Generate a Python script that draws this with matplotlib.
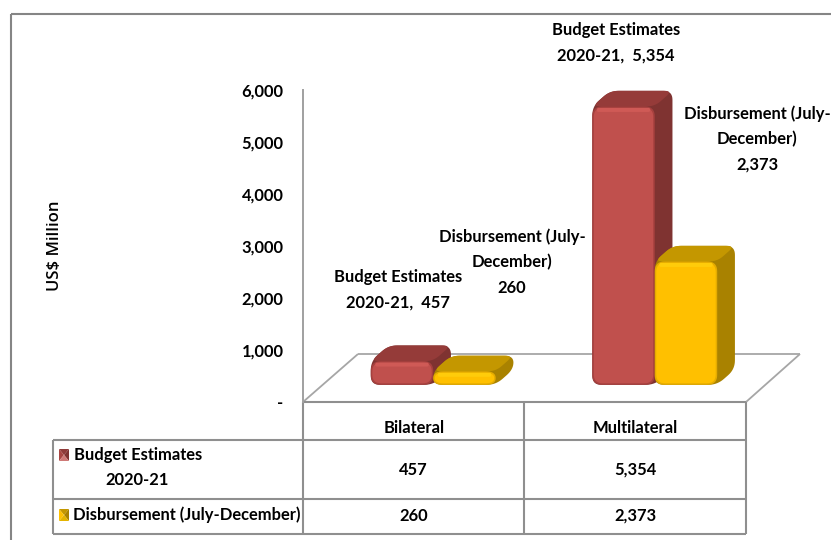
import numpy as np
import matplotlib
matplotlib.use("Agg")
import matplotlib.pyplot as plt
from matplotlib.patches import Polygon

categories = ["Bilateral", "Multilateral"]
series_names = ["Budget Estimates 2020-21", "Disbursement (July-December)"]
budget = [457, 5354]
disbursement = [260, 2373]
y_ticks = [0, 1000, 2000, 3000, 4000, 5000, 6000]

W, H = 831, 540
FONT = "Lato"
GRID = "#8F8F8F"
plt.rcParams["font.family"] = [FONT, "DejaVu Sans"]
plt.rcParams["font.weight"] = "bold"

fig = plt.figure(figsize=(W / 100, H / 100), dpi=100, facecolor="white")

# overlay in pixel coordinates for frame, floor and table furniture
bg = fig.add_axes([0, 0, 1, 1], zorder=0)
bg.set_xlim(0, W)
bg.set_ylim(H, 0)
bg.axis("off")


def seg(x0, y0, x1, y1, lw=1.5, color=GRID):
    bg.plot([x0, x1], [y0, y1], color=color, lw=lw, solid_capstyle="butt")


# outer frame
seg(11, 14, 831, 14, lw=1.5, color="#858585")
seg(11, 14, 11, 540, lw=1.5, color="#858585")

# floor
seg(303, 402, 358, 354, lw=1.3, color="#A6A6A6")
seg(358, 354, 800, 354, lw=1.3, color="#A6A6A6")
seg(800, 354, 746, 402, lw=1.3, color="#A6A6A6")

# data table
seg(303, 402, 746, 402)
seg(53, 440, 746, 440)
seg(53, 499, 746, 499)
seg(53, 534, 746, 534)
seg(53, 440, 53, 534)
for xv in (303, 524, 746):
    seg(xv, 402, xv, 534)

AX_L, AX_R, AX_T, AX_B = 303, 746, 90, 402
ax = fig.add_axes([AX_L / W, 1 - AX_B / H, (AX_R - AX_L) / W, (AX_B - AX_T) / H], zorder=1)
ax.patch.set_alpha(0)
ax.set_xlim(0, 2)
ax.set_ylim(0, 6000)
for s in ("top", "right", "bottom"):
    ax.spines[s].set_visible(False)
ax.spines["left"].set_color("#A0A0A0")
ax.spines["left"].set_linewidth(1.4)
ax.set_yticks(y_ticks)
ax.set_yticklabels([f"{v:,}" if v else "-" for v in y_ticks], fontsize=11.9)
ax.tick_params(axis="y", length=0, pad=14)
ax.set_xticks([0.5, 1.5])
ax.set_xticklabels(categories, fontsize=11.9)
ax.tick_params(axis="x", length=0, pad=13)

sx = (AX_R - AX_L) / 2.0
sy = (AX_B - AX_T) / 6000.0


def rounded(points, r):
    """Round the corners of a polygon given in data units; r in pixels."""
    P = np.array(points, float) * [sx, sy]
    out = []
    n = len(P)
    for i in range(n):
        a, b, c = P[i - 1], P[i], P[(i + 1) % n]
        la, lc = np.linalg.norm(a - b), np.linalg.norm(c - b)
        ra = min(r, la * 0.5)
        rc = min(r, lc * 0.5)
        p0 = b + (a - b) / la * ra
        p2 = b + (c - b) / lc * rc
        for t in np.linspace(0, 1, 10):
            out.append((1 - t) ** 2 * p0 + 2 * t * (1 - t) * b + t ** 2 * p2)
    return np.array(out) / [sx, sy]


def rect(x0, x1, y0, y1):
    return [(x0, y0), (x1, y0), (x1, y1), (x0, y1)]


def bar3d(x, w, val, base, dx, dy, pal):
    """Front face from base up by val, extruded by (dx, dy) in data units."""
    top = base + val
    sil = [(x, base), (x + w, base), (x + w + dx, base + dy), (x + w + dx, top + dy),
           (x + dx, top + dy), (x, top)]
    ax.add_patch(Polygon(rounded(sil, 9), closed=True, fc=pal["side"], ec="none", zorder=3))
    tp = [(x, top), (x + w, top), (x + w + dx, top + dy), (x + dx, top + dy)]
    ax.add_patch(Polygon(rounded(tp, 8), closed=True, fc=pal["top"], ec="none", zorder=4))
    ax.add_patch(Polygon(rounded(rect(x, x + w, base, top), 10), closed=True,
                         fc=pal["edge"], ec="none", zorder=5))
    px = 1.5 / sx
    py = 1.5 / sy
    ax.add_patch(Polygon(rounded(rect(x + px, x + w - px, base + py, top - py), 9), closed=True,
                         fc=pal["front"], ec="none", zorder=6))
    hi = min(4 / sy, val * 0.35)
    ax.add_patch(Polygon(rounded(rect(x + 3 * px, x + w - 3 * px, top - py - hi, top - py), 2), closed=True,
                         fc=pal["hi"], ec="none", zorder=7))


RED = dict(front="#C0504D", edge="#A5403E", top="#953B39", side="#7F3331", hi="#CF5A56")
YEL = dict(front="#FFC000", edge="#E5AC00", top="#C49700", side="#A98200", hi="#FFCC0A")

BAR_W = 0.282
OFFSET = 0.088
BASE = 330
DX, DY = 0.08, 300
for i in range(len(categories)):
    c = i + 0.5 + OFFSET
    bar3d(c - BAR_W, BAR_W, budget[i], BASE, DX, DY, RED)
    bar3d(c, BAR_W, disbursement[i], BASE, DX, DY, YEL)

# text
FS = 11.9


def txt(x, y, s, **kw):
    kw.setdefault("fontsize", FS)
    bg.text(x, y, s, ha=kw.pop("ha", "center"), va="center", color="black",
            linespacing=1.72, **kw)


bg.text(55, 246, "US$ Million", rotation=90, ha="center", va="center",
        fontsize=12, family="Open Sans", weight=600, color="black")

txt(398, 290, f"Budget Estimates\n2020-21,  {budget[0]:,}")
txt(616, 43, f"Budget Estimates\n2020-21,  {budget[1]:,}")
txt(512, 262, f"Disbursement (July-\nDecember)\n{disbursement[0]:,}")
txt(757, 139, f"Disbursement (July-\nDecember)\n{disbursement[1]:,}")

for xc, b, d in zip((413.5, 635), budget, disbursement):
    txt(xc, 470, f"{b:,}")
    txt(xc, 516, f"{d:,}")

txt(74, 455, "Budget Estimates", ha="left")
txt(137, 480, "2020-21")
txt(73, 515, series_names[1], ha="left")


def key(x0, y0, w, h, c_top, c_left, c_right, c_bottom):
    xm, ym = x0 + w / 2, y0 + h / 2
    x1, y1 = x0 + w, y0 + h
    bg.add_patch(Polygon([(x0, y0), (x1, y0), (xm, ym)], fc=c_top, ec="none"))
    bg.add_patch(Polygon([(x0, y0), (x0, y1), (xm, ym)], fc=c_left, ec="none"))
    bg.add_patch(Polygon([(x1, y0), (x1, y1), (xm, ym)], fc=c_right, ec="none"))
    bg.add_patch(Polygon([(x0, y1), (x1, y1), (xm, ym)], fc=c_bottom, ec="none"))


key(59, 449, 10, 12, "#8F3B39", "#A84542", "#7F3331", "#CF7A77")
key(59, 509, 10, 12, "#C49700", "#FFC000", "#A98200", "#E5B400")

fig.savefig("out.png", dpi=100, facecolor="white")
